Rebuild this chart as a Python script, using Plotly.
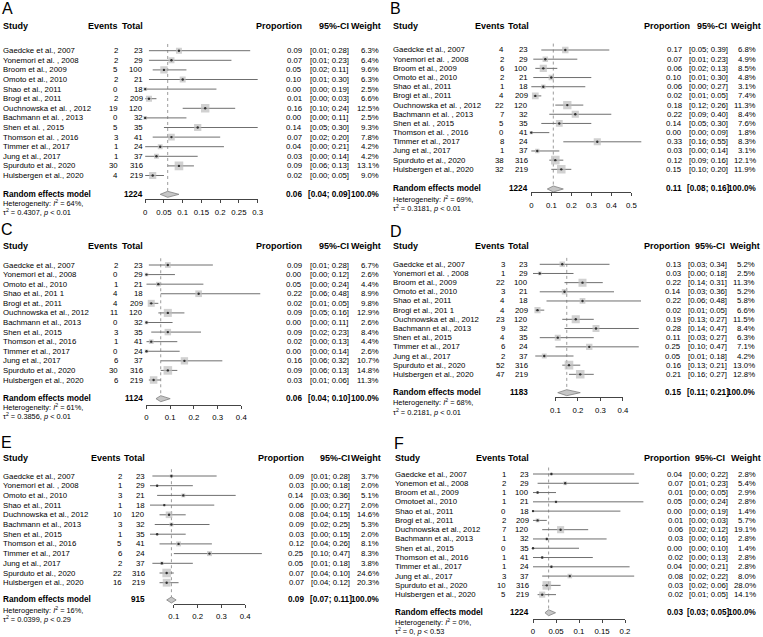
import plotly.graph_objects as go

W, H = 763, 637
FONT = "Liberation Sans, Arial, Helvetica, sans-serif"

# ---------------- data ----------------
A_study = ["Gaedcke et al., 2007", "Yonemori et al. , 2008", "Broom et al., 2009", "Omoto et al., 2010",
           "Shao et al., 2011", "Brogi et al., 2011", "Ouchnowska et al. , 2012", "Bachmann et al. , 2013",
           "Shen et al. , 2015", "Thomson et al. , 2016", "Timmer et al., 2017", "Jung et al., 2017",
           "Spurduto et al., 2020", "Hulsbergen et al., 2020"]
A_events = [2, 2, 5, 2, 0, 2, 19, 0, 5, 3, 1, 1, 30, 4]
A_total = [23, 29, 100, 21, 18, 209, 120, 32, 35, 41, 24, 37, 316, 219]
A_prop = [0.09, 0.07, 0.05, 0.10, 0.00, 0.01, 0.16, 0.00, 0.14, 0.07, 0.04, 0.03, 0.09, 0.02]
A_lower = [0.01, 0.01, 0.02, 0.01, 0.00, 0.00, 0.10, 0.00, 0.05, 0.02, 0.00, 0.00, 0.06, 0.00]
A_upper = [0.28, 0.23, 0.11, 0.30, 0.19, 0.03, 0.24, 0.11, 0.30, 0.20, 0.21, 0.14, 0.13, 0.05]
A_weight = [6.3, 6.4, 9.6, 6.3, 2.5, 6.6, 12.5, 2.5, 9.3, 7.8, 4.2, 4.2, 13.1, 9.0]
A_pooled = [0.06, 0.04, 0.09]
A_pooled_total = 1224
A_het = ["64%", "0.4307", "< 0.01"]
A_ticks = [0, 0.05, 0.1, 0.15, 0.2, 0.25, 0.3]
A_ticklabels = ["0", "0.05", "0.1", "0.15", "0.2", "0.25", "0.3"]

B_study = ["Gaedcke et al., 2007", "Yonemori et al. , 2008", "Broom et al., 2009", "Omoto et al., 2010",
           "Shao et al., 2011", "Brogi et al., 2011", "Ouchnowska et al. , 2012", "Bachmann et al. , 2013",
           "Shen et al. , 2015", "Thomson et al. , 2016", "Timmer et al., 2017", "Jung et al., 2017",
           "Spurduto et al., 2020", "Hulsbergen et al., 2020"]
B_events = [4, 2, 6, 2, 1, 4, 22, 7, 5, 0, 8, 1, 38, 32]
B_total = [23, 29, 100, 21, 18, 209, 120, 32, 35, 41, 24, 37, 316, 219]
B_prop = [0.17, 0.07, 0.06, 0.10, 0.06, 0.02, 0.18, 0.22, 0.14, 0.00, 0.33, 0.03, 0.12, 0.15]
B_lower = [0.05, 0.01, 0.02, 0.01, 0.00, 0.01, 0.12, 0.09, 0.05, 0.00, 0.16, 0.00, 0.09, 0.10]
B_upper = [0.39, 0.23, 0.13, 0.30, 0.27, 0.05, 0.26, 0.40, 0.30, 0.09, 0.55, 0.14, 0.16, 0.20]
B_weight = [6.8, 4.9, 8.5, 4.8, 3.1, 7.4, 11.3, 8.4, 7.6, 1.8, 8.3, 3.1, 12.1, 11.9]
B_pooled = [0.11, 0.08, 0.16]
B_pooled_total = 1224
B_het = ["69%", "0.3181", "< 0.01"]
B_ticks = [0, 0.1, 0.2, 0.3, 0.4, 0.5]
B_ticklabels = ["0", "0.1", "0.2", "0.3", "0.4", "0.5"]

C_study = ["Gaedcke et al., 2007", "Yonemori et al., 2008", "Omoto et al., 2010", "Shao et al., 201 1",
           "Brogi et at., 2011", "Ouchnowska et al., 2012", "Bachmann et al., 2013", "Shen et al., 2015",
           "Thomson et al., 2016", "Timmer et al., 2017", "Jung et al., 2017", "Spurduto et al., 2020",
           "Hulsbergen et al., 2020"]
C_events = [2, 0, 1, 4, 4, 11, 0, 3, 1, 0, 6, 30, 6]
C_total = [23, 29, 21, 18, 209, 120, 32, 35, 41, 24, 37, 316, 219]
C_prop = [0.09, 0.00, 0.05, 0.22, 0.02, 0.09, 0.00, 0.09, 0.02, 0.00, 0.16, 0.09, 0.03]
C_lower = [0.01, 0.00, 0.00, 0.06, 0.01, 0.05, 0.00, 0.02, 0.00, 0.00, 0.06, 0.06, 0.01]
C_upper = [0.28, 0.12, 0.24, 0.48, 0.05, 0.16, 0.11, 0.23, 0.13, 0.14, 0.32, 0.13, 0.06]
C_weight = [6.7, 2.6, 4.4, 8.9, 9.8, 12.9, 2.6, 8.4, 4.4, 2.6, 10.7, 14.8, 11.3]
C_pooled = [0.06, 0.04, 0.10]
C_pooled_total = 1124
C_het = ["61%", "0.3856", "< 0.01"]
C_ticks = [0, 0.1, 0.2, 0.3, 0.4]
C_ticklabels = ["0", "0.1", "0.2", "0.3", "0.4"]

D_study = ["Gaedcke et al., 2007", "Yonemori et al. , 2008", "Broom et al., 2009", "Omoto et al., 2010",
           "Shao et al., 2011", "Brogi et al., 201 1", "Ouchnowska et al., 2012", "Bachmann et al., 2013",
           "Shen et al., 2015", "Timmer et al., 2017", "Jung et al., 2017", "Spurduto et al., 2020",
           "Hulsbergen et al., 2020"]
D_events = [3, 1, 22, 3, 4, 4, 23, 9, 4, 6, 2, 52, 47]
D_total = [23, 29, 100, 21, 18, 209, 120, 32, 35, 24, 37, 316, 219]
D_prop = [0.13, 0.03, 0.22, 0.14, 0.22, 0.02, 0.19, 0.28, 0.11, 0.25, 0.05, 0.16, 0.21]
D_lower = [0.03, 0.00, 0.14, 0.03, 0.06, 0.01, 0.13, 0.14, 0.03, 0.10, 0.01, 0.13, 0.16]
D_upper = [0.34, 0.18, 0.31, 0.36, 0.48, 0.05, 0.27, 0.47, 0.27, 0.47, 0.18, 0.21, 0.27]
D_weight = [5.2, 2.5, 11.3, 5.2, 5.8, 6.6, 11.5, 8.4, 6.3, 7.1, 4.2, 13.0, 12.8]
D_pooled = [0.15, 0.11, 0.21]
D_pooled_total = 1183
D_het = ["68%", "0.2181", "< 0.01"]
D_ticks = [0.1, 0.2, 0.3, 0.4]
D_ticklabels = ["0.1", "0.2", "0.3", "0.4"]

E_study = ["Gaedcke et al., 2007", "Yonemori et al. , 2008", "Omoto et al., 2010", "Shao et al., 2011",
           "Duchnowska et al., 2012", "Bachmann et al., 2013", "Shen et al., 2015", "Thomson et al., 2016",
           "Timmer et al., 2017", "Jung et al., 2017", "Spurduto et al., 2020", "Hulsbergen et al., 2020"]
E_events = [2, 1, 3, 1, 10, 3, 1, 5, 6, 2, 22, 16]
E_total = [23, 29, 21, 18, 120, 32, 35, 41, 24, 37, 316, 219]
E_prop = [0.09, 0.03, 0.14, 0.06, 0.08, 0.09, 0.03, 0.12, 0.25, 0.05, 0.07, 0.07]
E_lower = [0.01, 0.00, 0.03, 0.00, 0.04, 0.02, 0.00, 0.04, 0.10, 0.01, 0.04, 0.04]
E_upper = [0.28, 0.18, 0.36, 0.27, 0.15, 0.25, 0.15, 0.26, 0.47, 0.18, 0.10, 0.12]
E_weight = [3.7, 2.0, 5.1, 2.0, 14.6, 5.3, 2.0, 8.1, 8.3, 3.8, 24.6, 20.3]
E_pooled = [0.09, 0.07, 0.11]
E_pooled_total = 915
E_het = ["16%", "0.0399", "< 0.29"]
E_ticks = [0.1, 0.2, 0.3, 0.4]
E_ticklabels = ["0.1", "0.2", "0.3", "0.4"]

F_study = ["Gaedcke et al., 2007", "Yonemon et al., 2008", "Broom et al., 2009", "Omotoet al., 2010",
           "Shao et al., 2011", "Brogi et al., 2011", "Duchnowska et al., 2012", "Bachmann et al., 2013",
           "Shen et al., 2015", "Thomson et al., 2016", "Timmer et al., 2017", "Jung et al., 2017",
           "Spurduto et al., 2020", "Hulsbergen et al., 2020"]
F_events = [1, 2, 1, 1, 0, 2, 7, 1, 0, 1, 1, 3, 10, 5]
F_total = [23, 29, 100, 21, 18, 209, 120, 32, 35, 41, 24, 37, 316, 219]
F_prop = [0.04, 0.07, 0.01, 0.05, 0.00, 0.01, 0.06, 0.03, 0.00, 0.02, 0.04, 0.08, 0.03, 0.02]
F_lower = [0.00, 0.01, 0.00, 0.00, 0.00, 0.00, 0.02, 0.00, 0.00, 0.00, 0.00, 0.02, 0.02, 0.01]
F_upper = [0.22, 0.23, 0.05, 0.24, 0.19, 0.03, 0.12, 0.16, 0.10, 0.13, 0.21, 0.22, 0.06, 0.05]
F_weight = [2.8, 5.4, 2.9, 2.8, 1.4, 5.7, 19.1, 2.8, 1.4, 2.8, 2.8, 8.0, 28.0, 14.1]
F_pooled = [0.034, 0.026, 0.049]
F_pooled_total = 1224
F_het = ["0%", "0", "< 0.53"]
F_ticks = [0, 0.05, 0.1, 0.15, 0.2]
F_ticklabels = ["0", "0.05", "0.1", "0.15", "0.2"]

PANELS = [
    ("A", A_study, A_events, A_total, A_prop, A_lower, A_upper, A_weight, A_pooled, A_pooled_total, A_het, A_ticks, A_ticklabels),
    ("B", B_study, B_events, B_total, B_prop, B_lower, B_upper, B_weight, B_pooled, B_pooled_total, B_het, B_ticks, B_ticklabels),
    ("C", C_study, C_events, C_total, C_prop, C_lower, C_upper, C_weight, C_pooled, C_pooled_total, C_het, C_ticks, C_ticklabels),
    ("D", D_study, D_events, D_total, D_prop, D_lower, D_upper, D_weight, D_pooled, D_pooled_total, D_het, D_ticks, D_ticklabels),
    ("E", E_study, E_events, E_total, E_prop, E_lower, E_upper, E_weight, E_pooled, E_pooled_total, E_het, E_ticks, E_ticklabels),
    ("F", F_study, F_events, F_total, F_prop, F_lower, F_upper, F_weight, F_pooled, F_pooled_total, F_het, F_ticks, F_ticklabels),
]

# ---------------- layout geometry (pixels) ----------------
GEOM = {
    "A": dict(study_x=2, letter=(7, 9), head_y=26, y0=50.7, s=9.6, re_gap=0.96, het=(203.3, 212),
              axis_y=199.3, x0px=145.2, k=375, dom=(138, 272), ev_r=118.7, tot_r=144, prop_r=303,
              ci_c=329.3, w_r=380, hdr=(118.7, 144, 302.7, 350, 382)),
    "B": dict(study_x=392, letter=(395.5, 9), head_y=26, y0=50, s=9.18, re_gap=1.14, het=(198.7, 207.5),
              axis_y=192.3, x0px=531.3, k=200, dom=(525, 650), ev_r=505.5, tot_r=529, prop_r=683,
              ci_c=708, w_r=757, hdr=(506.3, 529.5, 691, 728, 762)),
    "C": dict(study_x=2, letter=(7, 230), head_y=246, y0=265, s=9.583, re_gap=0.95, het=(407.3, 416),
              axis_y=405, x0px=146.5, k=237, dom=(140, 268), ev_r=119, tot_r=143.5, prop_r=303.3,
              ci_c=329.3, w_r=380, hdr=(119, 144, 302.7, 350, 382)),
    "D": dict(study_x=392, letter=(396, 231), head_y=246, y0=264.3, s=9.17, re_gap=1.0, het=(402.3, 411.7),
              axis_y=397.3, x0px=533, k=225, dom=(528, 650), ev_r=505.7, tot_r=528.5, prop_r=682,
              ci_c=707.5, w_r=756.3, hdr=(506.3, 530, 690.7, 726.3, 761.3)),
    "E": dict(study_x=2, letter=(6.5, 442.5), head_y=458, y0=476, s=9.7, re_gap=0.78, het=(610, 619),
              axis_y=604, x0px=150, k=238, dom=(143, 268), ev_r=122.5, tot_r=145.7, prop_r=305,
              ci_c=330.7, w_r=380, hdr=(121.7, 145.7, 305.3, 350.7, 382)),
    "F": dict(study_x=393.7, letter=(399, 443), head_y=458, y0=474, s=9.28, re_gap=0.95, het=(622, 630.7),
              axis_y=619, x0px=533, k=460, dom=(527, 648), ev_r=507, tot_r=529.7, prop_r=683.7,
              ci_c=708, w_r=757, hdr=(507, 530, 691.3, 726, 762)),
}

ROW_SIZE = 7.8
HET_SIZE = 7.4
HEAD_SIZE = 9
RE_SIZE = 8.2
LINE_COL = "#6f6f6f"
SQ_COL = "#bdbdbd"
MAX_SQ = 8.6

fig = go.Figure()
layout = {}
annotations = []


def xp(px):
    return px / W


def yp(py):
    return 1 - py / H


def ax_key(letter, idx):
    return f"{letter}axis" if idx == 1 else f"{letter}axis{idx}"


def ax_ref(letter, idx):
    return letter if idx == 1 else f"{letter}{idx}"


def ann(text, x_px, y, yref, xanchor, size=ROW_SIZE):
    annotations.append(dict(
        text=text, x=xp(x_px), xref="paper", y=y, yref=yref,
        xanchor=xanchor, yanchor="middle", showarrow=False, borderpad=0,
        font=dict(family=FONT, size=size, color="#000000")))


for p, (name, study, events, total, prop, lower, upper, weight, pooled, ptotal, het, ticks, ticklabels) in enumerate(PANELS):
    g = GEOM[name]
    n = len(study)
    xd_i, xs_i, y_i = 2 * p + 1, 2 * p + 2, p + 1
    xd, xs, ya = ax_ref("x", xd_i), ax_ref("x", xs_i), ax_ref("y", y_i)
    y0, s = g["y0"], g["s"]
    re_row = n + g["re_gap"]
    top_px = y0 - 12
    bot_px = g["axis_y"]

    layout[ax_key("y", y_i)] = dict(
        domain=[yp(bot_px), yp(top_px)],
        range=[(bot_px - y0) / s, (top_px - y0) / s],
        visible=False, anchor=xd, fixedrange=True)
    layout[ax_key("x", xd_i)] = dict(
        domain=[xp(g["dom"][0]), xp(g["dom"][1])],
        range=[(g["dom"][0] - g["x0px"]) / g["k"], (g["dom"][1] - g["x0px"]) / g["k"]],
        visible=False, anchor=ya, fixedrange=True)
    eps = 1e-4
    r0, r1 = ticks[0] - eps, ticks[-1] + eps
    layout[ax_key("x", xs_i)] = dict(
        domain=[xp(g["x0px"] + g["k"] * r0), xp(g["x0px"] + g["k"] * r1)],
        range=[r0, r1], anchor=ya, showline=True, linecolor="#444444", linewidth=1,
        ticks="outside", ticklen=3, tickwidth=1, tickcolor="#444444",
        tickvals=ticks, ticktext=ticklabels, ticklabelstandoff=2,
        tickfont=dict(family=FONT, size=ROW_SIZE, color="#000000"),
        showgrid=False, zeroline=False, fixedrange=True)

    rows = list(range(n))
    # dotted reference line at pooled estimate
    fig.add_trace(go.Scatter(x=[pooled[0], pooled[0]], y=[-0.7, re_row], mode="lines",
                             line=dict(color="#9c9c9c", width=1, dash="dot"),
                             xaxis=xd, yaxis=ya, hoverinfo="skip"))
    # confidence interval lines
    cx, cy = [], []
    for i in rows:
        cx += [lower[i], upper[i], None]
        cy += [i, i, None]
    fig.add_trace(go.Scatter(x=cx, y=cy, mode="lines", line=dict(color=LINE_COL, width=1),
                             xaxis=xd, yaxis=ya, hoverinfo="skip"))
    # weight squares
    wmax = max(weight)
    sizes = [MAX_SQ * (w / wmax) ** 0.5 for w in weight]
    fig.add_trace(go.Scatter(x=prop, y=rows, mode="markers",
                             marker=dict(symbol="square", size=sizes, color=SQ_COL, line=dict(width=0)),
                             xaxis=xd, yaxis=ya, hoverinfo="skip"))
    fig.add_trace(go.Scatter(x=prop, y=rows, mode="markers",
                             marker=dict(symbol="circle", size=2.4, color="#303030", line=dict(width=0)),
                             xaxis=xd, yaxis=ya, hoverinfo="skip"))
    # pooled diamond
    hh = 3.0 / s
    fig.add_trace(go.Scatter(x=[pooled[1], pooled[0], pooled[2], pooled[0], pooled[1]],
                             y=[re_row, re_row - hh, re_row, re_row + hh, re_row],
                             mode="lines", fill="toself", fillcolor="#c6c6c6",
                             line=dict(color="#808080", width=0.8),
                             xaxis=xd, yaxis=ya, hoverinfo="skip"))
    # dummy trace for the visible axis
    fig.add_trace(go.Scatter(x=[ticks[0]], y=[0], mode="markers", marker=dict(size=1, opacity=0),
                             xaxis=xs, yaxis=ya, hoverinfo="skip"))

    # ---- texts ----
    ann(name, g["letter"][0], yp(g["letter"][1]), "paper", "center", size=16)
    hy = yp(g["head_y"])
    ann("<b>Study</b>", g["study_x"], hy, "paper", "left", HEAD_SIZE)
    ann("<b>Events</b>", g["hdr"][0], hy, "paper", "right", HEAD_SIZE)
    ann("<b>Total</b>", g["hdr"][1], hy, "paper", "right", HEAD_SIZE)
    ann("<b>Proportion</b>", g["hdr"][2], hy, "paper", "right", HEAD_SIZE)
    ann("<b>95%-CI</b>", g["hdr"][3], hy, "paper", "right", HEAD_SIZE)
    ann("<b>Weight</b>", g["hdr"][4], hy, "paper", "right", HEAD_SIZE)
    for i in rows:
        ann(study[i], g["study_x"], i, ya, "left")
        ann(str(events[i]), g["ev_r"], i, ya, "right")
        ann(str(total[i]), g["tot_r"], i, ya, "right")
        ann(f"{prop[i]:.2f}", g["prop_r"], i, ya, "right")
        ann(f"[{lower[i]:.2f}; {upper[i]:.2f}]", g["ci_c"], i, ya, "center")
        ann(f"{weight[i]:.1f}%", g["w_r"], i, ya, "right")
    ann("<b>Random effects model</b>", g["study_x"], re_row, ya, "left", RE_SIZE)
    ann(f"<b>{ptotal}</b>", g["tot_r"], re_row, ya, "right", RE_SIZE)
    ann(f"<b>{pooled[0]:.2f}</b>", g["prop_r"], re_row, ya, "right", RE_SIZE)
    ann(f"<b>[{pooled[1]:.2f}; {pooled[2]:.2f}]</b>", g["ci_c"], re_row, ya, "center", RE_SIZE)
    ann("<b>100.0%</b>", g["w_r"], re_row, ya, "right", RE_SIZE)
    ann(f"Heterogeneity: <i>I</i><sup>2</sup> = {het[0]},", g["study_x"], yp(g["het"][0]), "paper", "left", HET_SIZE)
    ann(f"\u03c4<sup>2</sup> = {het[1]}, <i>p</i> {het[2]}", g["study_x"], yp(g["het"][1]), "paper", "left", HET_SIZE)

fig.update_layout(
    width=W, height=H, margin=dict(l=0, r=0, t=0, b=0),
    template="none", paper_bgcolor="white", plot_bgcolor="rgba(0,0,0,0)",
    showlegend=False, annotations=annotations,
    font=dict(family=FONT, size=ROW_SIZE, color="#000000"),
    **layout)

fig.write_html("out.html", config={"displayModeBar": False},
               post_script="document.body.style.margin='0';document.body.style.overflow='hidden';")
